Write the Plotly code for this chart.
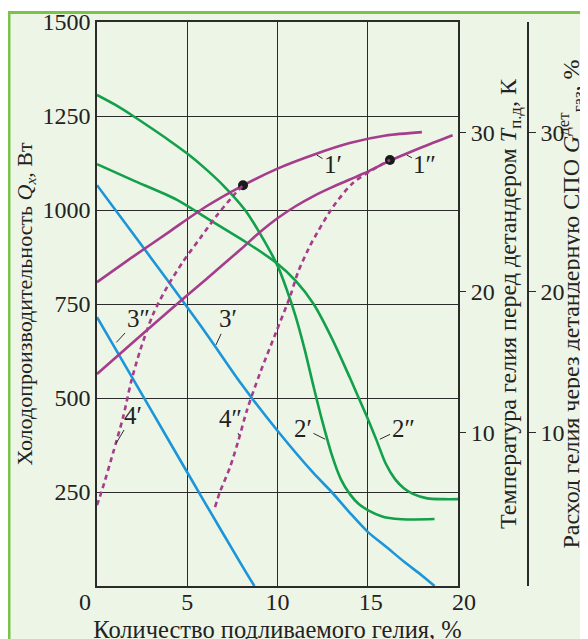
import plotly.graph_objects as go

# ---------------- data ----------------
# Curve 1' and 1'' (solid magenta)
x_1a = [0, 2, 4, 6, 8, 10, 12, 14, 16, 18]
q_1a = [808, 876, 942, 1008, 1063, 1110, 1147, 1178, 1198, 1207]
x_1b = [0, 2, 4, 6, 8, 9, 10, 11, 12, 13, 14, 15, 16, 17, 18, 19.7]
q_1b = [564, 648, 732, 814, 897, 940, 978, 1010, 1037, 1060, 1081, 1102, 1126, 1147, 1167, 1199]
# Curve 2' and 2'' (green)
x_2a = [0, 1, 2, 3, 4, 5, 6, 7, 8.2, 9, 10, 10.5, 11, 11.5, 12, 12.5, 13, 13.5, 14, 14.5, 15, 15.8, 16.5, 17.5, 18.7]
q_2a = [1306, 1280, 1250, 1218, 1185, 1150, 1110, 1065, 1000, 940, 852, 790, 718, 630, 530, 435, 350, 285, 245, 218, 202, 185, 179, 177, 178]
x_2b = [0, 1.94, 4.43, 6.26, 8.5, 10, 11, 12, 13, 14, 14.5, 15, 15.5, 16, 16.5, 17, 17.5, 18.3, 19.2, 20]
q_2b = [1122, 1080, 1027, 973, 907, 857, 812, 750, 660, 555, 500, 445, 386, 325, 285, 260, 245, 233, 231, 231]
# Curve 3' and 3'' (blue)
x_3a = [0, 2, 4, 6, 8, 10, 12, 13, 14, 15, 16, 17, 18, 18.7]
q_3a = [1066, 937, 807, 675, 537, 413, 300, 250, 195, 144, 105, 65, 28, 0]
x_3b = [0, 2, 4, 6, 8, 8.72]
q_3b = [715, 550, 385, 220, 57, 0]
# Curve 4' and 4'' (dotted magenta)
x_4a = [0, 0.28, 0.89, 1.44, 1.9, 2.38, 3.1, 3.88, 4.76, 5.71, 6.6, 7.53, 8.09]
q_4a = [215, 255, 354, 448, 545, 625, 722, 795, 862, 925, 983, 1037, 1066]
x_4b = [6.54, 6.81, 7.37, 7.81, 8.31, 9.03, 9.97, 10.69, 11.14, 11.69, 11.97, 13.07, 14.18, 15.51, 16.23]
q_4b = [210, 250, 316, 383, 468, 566, 681, 769, 835, 894, 920, 1008, 1072, 1114, 1133]
# marked points
x_pts = [8.09, 16.23]
q_pts = [1066, 1133]

# axis ticks
NB = "\u00a0"
x_ticks = [0, 5, 10, 15, 20]
x_ticktext = ["0" + NB * 4, "5", "10", NB + "15", NB * 2 + "20"]
q_ticks = [250, 500, 750, 1000, 1250, 1500]
right_tickpos = [407, 782, 1205]      # positions of the right-axis ticks on the Q scale
right_ticktext = ["10", "20", "30"]

# curve labels: (text, x, q on curve, text offset px)
labels = [
    ("1′", 12.08, 1149, 18, 11),
    ("1″", 17.06, 1149, 20, 11),
    ("2′", 12.74, 388, -24, -12),
    ("2″", 15.57, 388, 25, -12),
    ("3′", 6.54, 636, 13, -28),
    ("3″", 1.0, 644, 23, -25),
    ("4′", 1.0, 375, 18, -30),
    ("4″", 7.92, 396, -9, -19),
]

MAG = "#A53C8C"
GRN = "#12A04A"
BLU = "#1C95D9"
BG = "#EDF5E7"
INK = "#2b2b2b"
FONT = "Liberation Serif"

fig = go.Figure()

def add_line(x, y, color, dash=None, yaxis="y"):
    fig.add_trace(go.Scatter(
        x=x, y=y, mode="lines", yaxis=yaxis,
        line=dict(color=color, width=2.6, shape="spline", smoothing=0.8,
                  dash=dash if dash else "solid"),
        showlegend=False, hoverinfo="skip"))

add_line(x_3a, q_3a, BLU)
add_line(x_3b, q_3b, BLU)
add_line(x_2a, q_2a, GRN)
add_line(x_2b, q_2b, GRN)
add_line(x_4a, q_4a, MAG, "5px,4px", "y3")
add_line(x_4b, q_4b, MAG, "5px,4px", "y3")
add_line(x_1a, q_1a, MAG, None, "y2")
add_line(x_1b, q_1b, MAG, None, "y2")
fig.add_trace(go.Scatter(x=x_pts, y=q_pts, mode="markers", yaxis="y2",
                         marker=dict(color="#1a1a1a", size=10),
                         showlegend=False, hoverinfo="skip"))

for txt, xv, yv, ax, ay in labels:
    fig.add_annotation(x=xv, y=yv, xref="x", yref="y", text=txt,
                       showarrow=True, arrowhead=0, arrowwidth=1, arrowcolor=INK,
                       ax=ax, ay=ay, standoff=2,
                       font=dict(family=FONT, size=25, color="#222"))

# figure geometry (the page adds an 8px body margin; the bottom edge is cut like the original)
W, H = 580, 635
ml, mr, mt, mb = 89, 8, 14, 57
pw = W - ml - mr
ph = H - mt - mb
xdom = 361 / pw
y3pos = (520 - ml) / pw

def px2x(px):
    return (px - ml) / pw

def py2y(py):
    return (H - mb - py) / ph

# white strip above the green frame + green frame lines
fig.add_shape(type="rect", xref="paper", yref="paper",
              x0=px2x(-5), x1=px2x(W + 5), y0=py2y(3), y1=py2y(-5),
              fillcolor="white", line_width=0, layer="below")
fig.add_shape(type="line", xref="paper", yref="paper",
              x0=px2x(0), x1=px2x(W + 5), y0=py2y(4.5), y1=py2y(4.5),
              line=dict(color="#7CC24A", width=3))
fig.add_shape(type="line", xref="paper", yref="paper",
              x0=px2x(1), x1=px2x(1), y0=py2y(3), y1=py2y(H + 5),
              line=dict(color="#7CC24A", width=3))

tickfont = dict(family=FONT, size=24, color="#222")

def tfont(size):
    return dict(family=FONT, size=size, color="#222")

fig.update_layout(
    width=W, height=H,
    margin=dict(l=ml, r=mr, t=mt, b=mb, autoexpand=False),
    paper_bgcolor=BG, plot_bgcolor=BG,
    xaxis=dict(domain=[0, xdom], range=[0, 20], tickvals=x_ticks, ticktext=x_ticktext,
               showgrid=True, gridcolor=INK, gridwidth=1.3,
               showline=True, linecolor=INK, linewidth=1.5, mirror=True,
               zeroline=False, ticks="", tickfont=tickfont, ticklabelstandoff=-7,
               title=dict(text="Количество подливаемого гелия, %", font=tfont(24.5), standoff=13)),
    yaxis=dict(range=[0, 1500], tickvals=q_ticks,
               showgrid=True, gridcolor=INK, gridwidth=1.3,
               showline=True, linecolor=INK, linewidth=1.5, mirror=True,
               zeroline=False, ticks="", tickfont=tickfont,
               title=dict(text="Холодопроизводительность <i>Q</i><sub><i>x</i></sub>, Вт",
                          font=tfont(22), standoff=4)),
    yaxis2=dict(range=[0, 1500], overlaying="y", side="right", anchor="x",
                tickvals=right_tickpos, ticktext=right_ticktext,
                ticks="outside", ticklen=7, tickcolor=INK, tickwidth=1.3,
                showgrid=False, zeroline=False, showline=False, tickfont=tickfont,
                title=dict(text="Температура гелия перед детандером <i>T</i><sub>п.д</sub>, К",
                           font=tfont(24), standoff=3)),
    yaxis3=dict(range=[0, 1500], overlaying="y", side="right", anchor="free",
                position=y3pos,
                tickvals=right_tickpos, ticktext=right_ticktext,
                ticks="outside", ticklen=7, tickcolor=INK, tickwidth=1.3,
                showgrid=False, zeroline=False, showline=True, linecolor=INK, linewidth=1.5,
                tickfont=tickfont,
                title=dict(text="Расход гелия через детандерную СПО <i>G</i><sup>дет</sup><sub>газ</sub>, %",
                           font=tfont(24), standoff=3)),
)

fig.write_html("out.html")
